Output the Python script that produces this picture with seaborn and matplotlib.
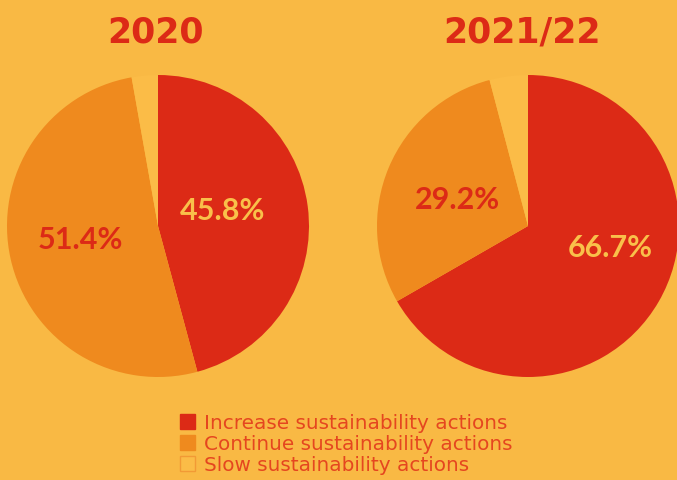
import matplotlib
matplotlib.use("Agg")
import matplotlib.pyplot as plt
import seaborn as sns
import numpy as np
from matplotlib.patches import Patch

sns.set_style("white")
plt.rcParams['font.family'] = ['DejaVu Sans']

titles = ["2020", "2021/22"]
categories = ["Increase sustainability actions", "Continue sustainability actions", "Slow sustainability actions"]
values_2020 = [45.8, 51.4, 2.8]
values_2122 = [66.7, 29.2, 4.1]
series = [values_2020, values_2122]

BG = "#F9B944"
RED = "#DC2A16"
ORANGE = "#EF8A1E"
SLOW = "#FBBC47"
colors = [RED, ORANGE, SLOW]
label_colors = ["#F9C04A", "#DC2A16", BG]

# label placement styling (radius fraction, angle offset in degrees) per slice
label_r = [[0.44, 0.52], [0.56, 0.50]]
label_dang = [[6.0, -3.0], [15.5, 1.7]]

fig = plt.figure(figsize=(6.77, 4.81), dpi=100, facecolor=BG)
W, H = 677, 481
centers = [(158, 227), (528, 227)]
title_x = [155, 522]
R = 151
for i, ((cx, cy), vals, title) in enumerate(zip(centers, series, titles)):
    ax = fig.add_axes([(cx - R) / W, (H - cy - R) / H, 2 * R / W, 2 * R / H])
    ax.set_facecolor(BG)
    wedges, texts, autotexts = ax.pie(
        vals, colors=colors, startangle=90, counterclock=False,
        autopct=lambda p: f"{p:.1f}%" if p > 10 else "", pctdistance=0.5,
        wedgeprops=dict(linewidth=0),
        textprops=dict(fontsize=22, fontweight="bold", family=["Lato", "DejaVu Sans"]))
    for j, (t, c) in enumerate(zip(autotexts, label_colors)):
        t.set_color(c)
        if j < 2:
            w = wedges[j]
            ang = np.deg2rad((w.theta1 + w.theta2) / 2 + label_dang[i][j])
            r = label_r[i][j]
            t.set_position((r * np.cos(ang), r * np.sin(ang)))
    ax.set_aspect("equal")
    ax.set_xlim(-1, 1)
    ax.set_ylim(-1, 1)
    ax.axis("off")
    fig.text(title_x[i] / W, 1 - 33 / H, title, ha="center", va="center",
             fontsize=25, fontweight="bold", color=RED, family=["DejaVu Sans"])

handles = [Patch(facecolor=RED, edgecolor=RED),
           Patch(facecolor=ORANGE, edgecolor=ORANGE),
           Patch(facecolor=SLOW, edgecolor="#F29A35", linewidth=1)]
leg = fig.legend(handles, categories, loc="center left", bbox_to_anchor=(180 / W, 1 - 445 / H),
                 frameon=False, fontsize=14.4, handlelength=0.75, handleheight=0.75,
                 handletextpad=0.45, labelspacing=0.1, borderpad=0, borderaxespad=0)
for t in leg.get_texts():
    t.set_color("#E5461F")

fig.savefig("out.png", dpi=100, facecolor=BG)
